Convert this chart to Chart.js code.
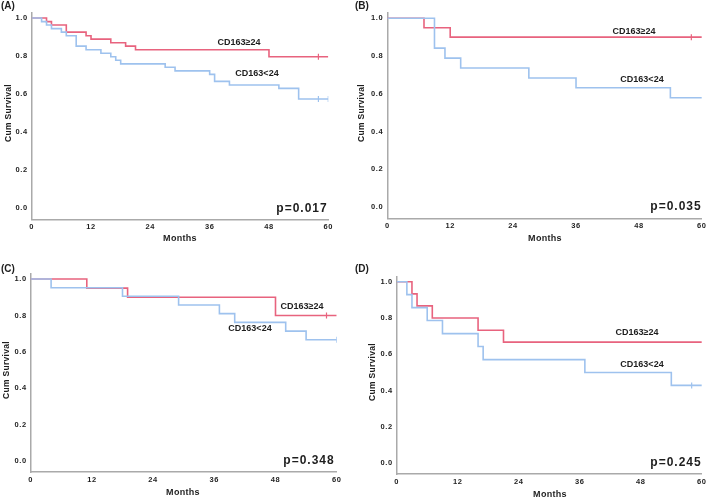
<!DOCTYPE html>
<html>
<head>
<meta charset="utf-8">
<script src="https://cdn.jsdelivr.net/npm/chart.js@4.4.1/dist/chart.umd.min.js"></script>
<style>
  html, body { margin: 0; padding: 0; background: #fff; }
  #wrap { position: relative; width: 709px; height: 500px; }
  #wrap canvas { position: absolute; left: 0; top: 0; }
</style>
</head>
<body>
<div id="wrap">
  <canvas id="cA" width="709" height="500"></canvas>
  <canvas id="cB" width="709" height="500"></canvas>
  <canvas id="cC" width="709" height="500"></canvas>
  <canvas id="cD" width="709" height="500"></canvas>
</div>
<script>
// tick labels
var xTicks = [0, 12, 24, 36, 48, 60];
var yTicks = [0, 0.2, 0.4, 0.6, 0.8, 1.0];

// (A)
var monthsA_hi = [0, 3, 4, 7, 11, 12, 16, 19, 21, 48, 60];
var survA_hi   = [1, 0.981, 0.963, 0.926, 0.907, 0.889, 0.870, 0.852, 0.833, 0.796, 0.796];
var censA_hi   = [58];
var monthsA_lo = [0, 2, 3, 4, 6, 7, 9, 11, 14, 16, 17, 18, 27, 29, 36, 37, 40, 50, 54, 60];
var survA_lo   = [1, 0.981, 0.963, 0.944, 0.926, 0.907, 0.852, 0.833, 0.815, 0.796, 0.778, 0.759, 0.741, 0.722, 0.704, 0.667, 0.648, 0.630, 0.574, 0.574];
var censA_lo   = [58, 60];

// (B)
var monthsB_hi = [0, 7, 12, 60];
var survB_hi   = [1, 0.95, 0.90, 0.90];
var censB_hi   = [58];
var monthsB_lo = [0, 9, 11, 14, 27, 36, 54, 60];
var survB_lo   = [1, 0.842, 0.789, 0.737, 0.684, 0.632, 0.579, 0.579];
var censB_lo   = [];

// (C)
var monthsC_hi = [0, 11, 19, 48, 60];
var survC_hi   = [1, 0.95, 0.90, 0.80, 0.80];
var censC_hi   = [58];
var monthsC_lo = [0, 4, 18, 29, 37, 40, 50, 54, 60];
var survC_lo   = [1, 0.952, 0.905, 0.857, 0.810, 0.762, 0.714, 0.667, 0.667];
var censC_lo   = [60];

// (D)
var monthsD_hi = [0, 3, 4, 7, 16, 21, 60];
var survD_hi   = [1, 0.933, 0.867, 0.800, 0.733, 0.667, 0.667];
var censD_hi   = [];
var monthsD_lo = [0, 2, 3, 6, 9, 16, 17, 37, 54, 60];
var survD_lo   = [1, 0.929, 0.857, 0.786, 0.714, 0.643, 0.571, 0.500, 0.429, 0.429];
var censD_lo   = [58];

var RED = '#e8637e';
var BLUE = '#9ec2ee';
var AXIS = '#aaaaaa';
var INK = '#1e1e1e';
var FONT = '"Liberation Sans", Arial, sans-serif';
var YMIN = -0.06, YMAX = 1.03;
var YW = 28, XH = 16;

var panels = [
  { id: 'cA', tag: '(A)', p: 'p=0.017',
    hi: [monthsA_hi, survA_hi, censA_hi], lo: [monthsA_lo, survA_lo, censA_lo],
    box: { x0: 31.7, x60: 328.3, y1: 18, y0: 208.3 },
    pos: { tag: [1, 6], months: [180, 239], cum: [9, 113], hi: [239, 43], lo: [257, 74], p: [302, 209] } },
  { id: 'cB', tag: '(B)', p: 'p=0.035',
    hi: [monthsB_hi, survB_hi, censB_hi], lo: [monthsB_lo, survB_lo, censB_lo],
    box: { x0: 387.3, x60: 703.3, y1: 18.3, y0: 207 },
    pos: { tag: [355, 6], months: [545, 239], cum: [362, 113], hi: [634, 32], lo: [642, 80], p: [676, 207] } },
  { id: 'cC', tag: '(C)', p: 'p=0.348',
    hi: [monthsC_hi, survC_hi, censC_hi], lo: [monthsC_lo, survC_lo, censC_lo],
    box: { x0: 30.7, x60: 336.7, y1: 279, y0: 461.3 },
    pos: { tag: [1, 269], months: [183, 493], cum: [7, 370], hi: [302, 307], lo: [250, 329], p: [309, 461] } },
  { id: 'cD', tag: '(D)', p: 'p=0.245',
    hi: [monthsD_hi, survD_hi, censD_hi], lo: [monthsD_lo, survD_lo, censD_lo],
    box: { x0: 396.7, x60: 702.7, y1: 281.7, y0: 463.3 },
    pos: { tag: [355, 269], months: [550, 495], cum: [373, 372], hi: [637, 333], lo: [642, 365], p: [676, 463] } }
];

function pts(xs, ys) {
  return xs.map(function (x, i) { return { x: x, y: ys[i] }; });
}

function censPts(cens, ys) {
  var last = ys[ys.length - 1];
  return cens.map(function (x) { return { x: x, y: last }; });
}

function curve(arr, color) {
  return {
    data: pts(arr[0], arr[1]),
    borderColor: color,
    borderWidth: 1.6,
    stepped: 'before',
    pointRadius: 0,
    fill: false
  };
}

function censor(arr, color) {
  return {
    data: censPts(arr[2], arr[1]),
    showLine: false,
    pointStyle: 'line',
    rotation: 90,
    pointRadius: 3,
    borderColor: color,
    borderWidth: 1.2
  };
}

function textPlugin(pn) {
  return {
    id: 'txt' + pn.id,
    beforeDraw: function (chart) { chart.ctx.letterSpacing = '0.6px'; },
    afterDraw: function (chart) {
      var ctx = chart.ctx;
      var q = pn.pos;
      ctx.save();
      ctx.fillStyle = INK;
      ctx.textBaseline = 'middle';

      ctx.letterSpacing = '0px';
      ctx.font = 'bold 10px ' + FONT;
      ctx.textAlign = 'left';
      ctx.fillText(pn.tag, q.tag[0], q.tag[1]);

      ctx.textAlign = 'center';
      ctx.font = 'bold 9px ' + FONT;
      ctx.letterSpacing = '0.3px';
      ctx.fillText('Months', q.months[0], q.months[1]);
      ctx.letterSpacing = '0px';
      ctx.fillText('CD163\u226524', q.hi[0], q.hi[1]);
      ctx.fillText('CD163<24', q.lo[0], q.lo[1]);

      ctx.font = 'bold 12px ' + FONT;
      ctx.letterSpacing = '1px';
      ctx.fillText(pn.p, q.p[0], q.p[1]);

      ctx.letterSpacing = '0.3px';
      ctx.font = 'bold 8.5px ' + FONT;
      ctx.translate(q.cum[0], q.cum[1]);
      ctx.rotate(-Math.PI / 2);
      ctx.fillText('Cum Survival', 0, 0);
      ctx.restore();
      ctx.letterSpacing = '0px';
    }
  };
}

panels.forEach(function (pn) {
  var b = pn.box;
  var unit = b.y0 - b.y1;
  var top = b.y1 - (YMAX - 1) * unit;
  var bottom = b.y0 + (0 - YMIN) * unit;

  new Chart(document.getElementById(pn.id), {
    type: 'line',
    data: {
      datasets: [curve(pn.lo, BLUE), curve(pn.hi, RED), censor(pn.lo, BLUE), censor(pn.hi, RED)]
    },
    options: {
      responsive: false,
      animation: false,
      layout: {
        padding: { left: b.x0 - YW, right: 709 - b.x60, top: top, bottom: 500 - bottom - XH }
      },
      plugins: { legend: { display: false }, tooltip: { enabled: false } },
      scales: {
        x: {
          type: 'linear', min: 0, max: 60,
          afterFit: function (s) { s.height = XH; },
          afterBuildTicks: function (s) { s.ticks = xTicks.map(function (v) { return { value: v }; }); },
          grid: { display: false, drawTicks: false, tickLength: 0 },
          border: { display: true, color: AXIS, width: 1.5 },
          ticks: { color: INK, padding: 3, maxRotation: 0, font: { family: FONT, size: 7.5, weight: 'bold' } }
        },
        y: {
          type: 'linear', min: YMIN, max: YMAX,
          afterFit: function (s) { s.width = YW; },
          afterBuildTicks: function (s) { s.ticks = yTicks.map(function (v) { return { value: v }; }); },
          grid: { display: false, drawTicks: false, tickLength: 0 },
          border: { display: true, color: AXIS, width: 1.5 },
          ticks: {
            color: INK, padding: 4, font: { family: FONT, size: 7.5, weight: 'bold' },
            callback: function (v) { return Number(v).toFixed(1); }
          }
        }
      }
    },
    plugins: [textPlugin(pn)]
  });
});
</script>
</body>
</html>
